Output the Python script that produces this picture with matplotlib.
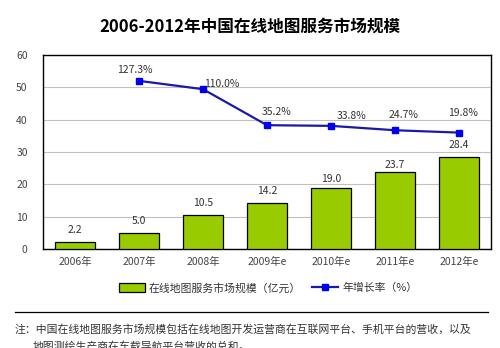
import matplotlib
matplotlib.use("Agg")
import matplotlib.pyplot as plt
from matplotlib.patches import Patch
from matplotlib.lines import Line2D

plt.rcParams['font.family'] = ['Noto Sans CJK SC', 'DejaVu Sans']

categories = ["2006年", "2007年", "2008年", "2009年e", "2010年e", "2011年e", "2012年e"]
market_size = [2.2, 5.0, 10.5, 14.2, 19.0, 23.7, 28.4]
growth_years = ["2007年", "2008年", "2009年e", "2010年e", "2011年e", "2012年e"]
growth_rate = [127.3, 110.0, 35.2, 33.8, 24.7, 19.8]
yticks = [0, 10, 20, 30, 40, 50, 60]

title = "2006-2012年中国在线地图服务市场规模"
bar_label = "在线地图服务市场规模（亿元）"
line_label = "年增长率（%）"
note1 = "注：中国在线地图服务市场规模包括在线地图开发运营商在互联网平台、手机平台的营收，以及"
note2 = "地图测绘生产商在车载导航平台营收的总和。"

W, H = 500, 348
fig = plt.figure(figsize=(W/100, H/100), dpi=100)
ax = fig.add_axes([43/W, 1-249/H, 448/W, 194/H])

x = list(range(len(categories)))
ax.bar(x, market_size, width=0.61, color='#99CC00', edgecolor='black', linewidth=0.9, zorder=3)
ax.set_xlim(-0.5, len(categories)-0.5)
ax.set_ylim(0, 60)
ax.set_yticks(yticks)
ax.set_xticks(x)
ax.set_xticklabels(categories)
ax.tick_params(length=0, labelsize=7.5, colors='#444444')
ax.tick_params(axis='y', pad=11)
ax.tick_params(axis='x', pad=6)
ax.grid(axis='y', color='#c0c0c0', linewidth=0.8, zorder=0)
for s in ax.spines.values():
    s.set_color('black')
    s.set_linewidth(1.0)

bar_off = [12, 12, 12, 12, 9, 7, 12]
for xi, v, off in zip(x, market_size, bar_off):
    ax.annotate(f"{v:.1f}", (xi, v), xytext=(0, off*0.72), textcoords='offset points',
                ha='center', va='center', fontsize=7.5, color='#333333', zorder=5)

ax2 = ax.twinx()
ax2.set_ylim(-222, 181)
ax2.set_xlim(ax.get_xlim())
gx = [categories.index(c) for c in growth_years]
ax2.plot(gx, growth_rate, color='#1a1aa8', linewidth=1.6, marker='s', markersize=5,
         markerfacecolor='#0000ee', markeredgecolor='#0000ee', zorder=4)
ax2.set_yticks([])
ax2.axis('off')
lab_off = [(-4, 11), (19, 5), (10, 13), (21, 10), (8, 15), (4, 20)]
for xi, v, (dx, dy) in zip(gx, growth_rate, lab_off):
    ax2.annotate(f"{v:.1f}%", (xi, v), xytext=(dx*0.72, dy*0.72), textcoords='offset points',
                 ha='center', va='center', fontsize=7.5, color='#333333')

fig.text(250/W, 1-27/H, title, ha='center', va='center', fontsize=12, fontweight='bold', color='black')

handles = [Patch(facecolor='#99CC00', edgecolor='black', linewidth=0.9),
           Line2D([0], [0], color='#1a1aa8', linewidth=1.6, marker='s', markersize=5,
                  markerfacecolor='#0000ee', markeredgecolor='#0000ee')]
fig.legend(handles, [bar_label, line_label], loc='center', bbox_to_anchor=(268/W, 1-288/H),
           ncol=2, frameon=False, fontsize=7.8, handlelength=2.4, handleheight=0.8,
           columnspacing=1.0, handletextpad=0.4, labelcolor='#333333')

fig.add_artist(Line2D([15/W, 488/W], [1-312/H, 1-312/H], color='black', linewidth=0.9))
fig.text(15/W, 1-329/H, note1, ha='left', va='center', fontsize=7.8, color='#333333')
fig.text(33/W, 1-346/H, note2, ha='left', va='center', fontsize=7.8, color='#333333')

fig.savefig("out.png", dpi=100)
